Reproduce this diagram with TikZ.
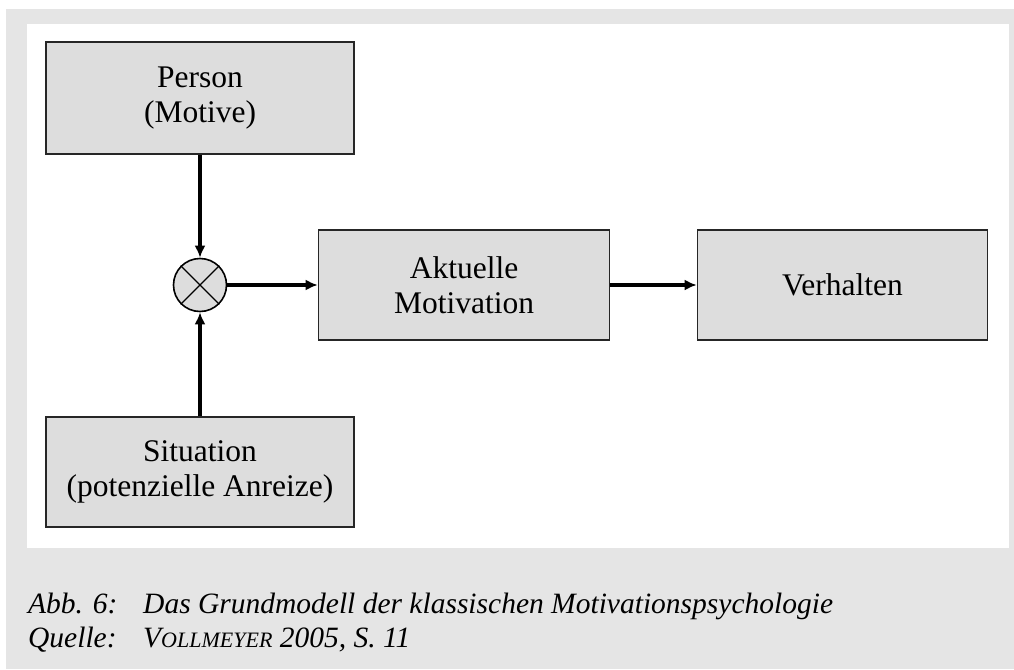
\documentclass[tikz,border=0pt]{standalone}
\usepackage{fontspec}
\setmainfont{Liberation Serif}
\usetikzlibrary{arrows.meta}
\definecolor{bggray}{HTML}{E5E5E5}
\definecolor{boxgray}{HTML}{DDDDDD}
\begin{document}
\begin{tikzpicture}[x=1pt,y=-1pt,
  blk/.style={draw=black!85,line width=1.6pt,fill=boxgray,inner sep=0pt,align=center,
    font=\fontsize{31.5}{35}\selectfont},
  conn/.style={line width=3.2pt,-{Latex[length=12pt,width=11pt]}},
  capt/.style={anchor=base west,inner sep=0pt,font=\fontsize{29.5}{32}\selectfont\itshape}]
\useasboundingbox (0,0) rectangle (1014,669);
\fill[white] (0,0) rectangle (1014,669);
\fill[bggray] (6,9) rectangle (1014,669);
\fill[white] (27,24) rectangle (1009,548);
\node[blk,minimum width=308pt,minimum height=112pt] (person) at (200,98) {Person\\(Motive)};
\node[blk,minimum width=308pt,minimum height=110pt] (sit) at (200,472) {Situation\\(potenzielle Anreize)};
\node[blk,minimum width=291pt,minimum height=110pt] (akt) at (464,285) {Aktuelle\\Motivation};
\node[blk,minimum width=290pt,minimum height=110pt] (verh) at (842.5,285) {Verhalten};
\node[draw=black,line width=1.6pt,fill=boxgray,circle,minimum size=53pt,inner sep=0pt] (mul) at (200,285) {};
\draw[line width=1.3pt] (mul.north west) -- (mul.south east) (mul.north east) -- (mul.south west);
\draw[conn] (person.south) -- (mul.north);
\draw[conn] (sit.north) -- (mul.south);
\draw[conn] (mul.east) -- (akt.west);
\draw[conn] (akt.east) -- (verh.west);
\node[capt] (c1a) at (28,613) {Abb. 6:};
\node[capt] (c1b) at (143,613) {Das Grundmodell der klassischen Motivationspsychologie};
\node[capt] (c2a) at (28,647) {Quelle:};
\node[capt] (c2b) at (143,647) {V{\fontsize{22}{24}\selectfont OLLMEYER} 2005, S. 11};
\end{tikzpicture}
\end{document}
